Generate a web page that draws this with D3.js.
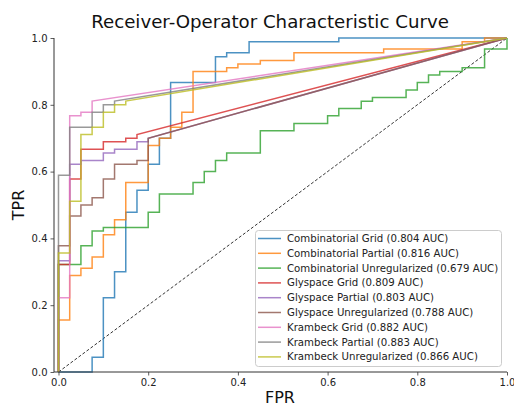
<!DOCTYPE html>
<html>
<head>
<meta charset="utf-8">
<script src="https://cdn.jsdelivr.net/npm/d3@7"></script>
<style>
  html, body { margin: 0; padding: 0; background: #fff; }
  svg { display: block; font-family: "DejaVu Sans", sans-serif; }
</style>
</head>
<body>
<svg id="chart" width="514" height="407"></svg>
<script>
// ROC curve vertices (FPR / TPR) for each model
const combGridFpr = [0, 0.075, 0.075, 0.1, 0.1, 0.125, 0.125, 0.15, 0.15, 0.175, 0.175, 0.2, 0.2, 0.225, 0.225, 0.25, 0.25, 0.35, 0.35, 0.375, 0.375, 0.425, 0.425, 0.625, 0.625, 1];
const combGridTpr = [0, 0, 0.044, 0.044, 0.222, 0.222, 0.3, 0.3, 0.478, 0.478, 0.544, 0.544, 0.622, 0.622, 0.7, 0.7, 0.867, 0.867, 0.944, 0.944, 0.956, 0.956, 0.989, 0.989, 1, 1];

const combPartialFpr = [0, 0, 0.025, 0.025, 0.05, 0.05, 0.075, 0.075, 0.1, 0.1, 0.125, 0.125, 0.15, 0.15, 0.2, 0.2, 0.225, 0.225, 0.25, 0.25, 0.275, 0.275, 0.3, 0.3, 0.375, 0.375, 0.4, 0.4, 0.45, 0.45, 0.525, 0.525, 0.725, 0.725, 0.9, 0.9, 0.95, 0.95, 1];
const combPartialTpr = [0, 0.156, 0.156, 0.289, 0.289, 0.311, 0.311, 0.344, 0.344, 0.411, 0.411, 0.456, 0.456, 0.567, 0.567, 0.678, 0.678, 0.7, 0.7, 0.733, 0.733, 0.778, 0.778, 0.9, 0.9, 0.911, 0.911, 0.922, 0.922, 0.933, 0.933, 0.956, 0.956, 0.967, 0.967, 0.989, 0.989, 1, 1];

const combUnregFpr = [0, 0, 0.05, 0.05, 0.075, 0.075, 0.1, 0.1, 0.2, 0.2, 0.225, 0.225, 0.3, 0.3, 0.325, 0.325, 0.35, 0.35, 0.375, 0.375, 0.45, 0.45, 0.525, 0.525, 0.6, 0.6, 0.625, 0.625, 0.675, 0.675, 0.7, 0.7, 0.775, 0.775, 0.8, 0.8, 0.825, 0.825, 0.85, 0.85, 0.9, 0.9, 0.95, 0.95, 1, 1];
const combUnregTpr = [0, 0.322, 0.322, 0.378, 0.378, 0.422, 0.422, 0.433, 0.433, 0.478, 0.478, 0.533, 0.533, 0.567, 0.567, 0.6, 0.6, 0.633, 0.633, 0.656, 0.656, 0.722, 0.722, 0.744, 0.744, 0.767, 0.767, 0.789, 0.789, 0.811, 0.811, 0.822, 0.822, 0.844, 0.844, 0.867, 0.867, 0.889, 0.889, 0.9, 0.9, 0.911, 0.911, 0.967, 0.967, 1];

const glyGridFpr = [0, 0, 0.025, 0.025, 0.05, 0.05, 0.1, 0.1, 0.15, 0.15, 0.175, 0.175, 1];
const glyGridTpr = [0, 0.322, 0.322, 0.578, 0.578, 0.667, 0.667, 0.689, 0.689, 0.7, 0.7, 0.711, 1];

const glyPartialFpr = [0, 0, 0.025, 0.025, 0.05, 0.05, 0.1, 0.1, 0.125, 0.125, 0.175, 0.175, 0.2, 0.2, 1];
const glyPartialTpr = [0, 0.333, 0.333, 0.622, 0.622, 0.633, 0.633, 0.656, 0.656, 0.667, 0.667, 0.689, 0.689, 0.7, 1];

const glyUnregFpr = [0, 0, 0.025, 0.025, 0.05, 0.05, 0.075, 0.075, 0.1, 0.1, 0.125, 0.125, 0.175, 0.175, 0.2, 0.2, 1];
const glyUnregTpr = [0, 0.378, 0.378, 0.467, 0.467, 0.5, 0.5, 0.522, 0.522, 0.578, 0.578, 0.622, 0.622, 0.633, 0.633, 0.7, 1];

const kramGridFpr = [0, 0, 0.025, 0.025, 0.05, 0.05, 0.075, 0.075, 1];
const kramGridTpr = [0, 0.222, 0.222, 0.767, 0.767, 0.778, 0.778, 0.811, 1];

const kramPartialFpr = [0, 0, 0.025, 0.025, 0.075, 0.075, 0.1, 0.1, 0.125, 0.125, 1];
const kramPartialTpr = [0, 0.589, 0.589, 0.733, 0.733, 0.778, 0.778, 0.8, 0.8, 0.811, 1];

const kramUnregFpr = [0, 0, 0.025, 0.025, 0.05, 0.05, 0.075, 0.075, 0.1, 0.1, 0.125, 0.125, 0.15, 0.15, 1];
const kramUnregTpr = [0, 0.356, 0.356, 0.511, 0.511, 0.711, 0.711, 0.733, 0.733, 0.778, 0.778, 0.8, 0.8, 0.811, 1];

const seriesNames = [
  "Combinatorial Grid", "Combinatorial Partial", "Combinatorial Unregularized",
  "Glyspace Grid", "Glyspace Partial", "Glyspace Unregularized",
  "Krambeck Grid", "Krambeck Partial", "Krambeck Unregularized"
];
const aucValues = [0.804, 0.816, 0.679, 0.809, 0.803, 0.788, 0.882, 0.883, 0.866];
const fprLists = [combGridFpr, combPartialFpr, combUnregFpr, glyGridFpr, glyPartialFpr, glyUnregFpr, kramGridFpr, kramPartialFpr, kramUnregFpr];
const tprLists = [combGridTpr, combPartialTpr, combUnregTpr, glyGridTpr, glyPartialTpr, glyUnregTpr, kramGridTpr, kramPartialTpr, kramUnregTpr];
const tickValues = [0, 0.2, 0.4, 0.6, 0.8, 1.0];

const series = seriesNames.map((name, i) => ({
  name,
  auc: aucValues[i],
  points: fprLists[i].map((f, j) => [f, tprLists[i][j]])
}));

const svg = d3.select("#chart");
const plotLeft = 54, plotRight = 507, plotTop = 38, plotBottom = 372;

const x = d3.scaleLinear().domain([-0.01, 1]).range([plotLeft, plotRight]);
const y = d3.scaleLinear().domain([0, 1]).range([plotBottom, plotTop]);
const color = d3.scaleOrdinal(d3.schemeCategory10).domain(seriesNames);

const line = d3.line().x(d => x(d[0])).y(d => y(d[1]));

// chance diagonal
svg.append("path")
  .attr("d", line([[0, 0], [1, 1]]))
  .attr("fill", "none")
  .attr("stroke", "#000")
  .attr("stroke-width", 0.8)
  .attr("stroke-dasharray", "3,2");

// ROC curves
svg.append("g").selectAll("path")
  .data(series)
  .join("path")
  .attr("d", d => line(d.points))
  .attr("fill", "none")
  .attr("stroke", d => color(d.name))
  .attr("stroke-opacity", 0.8)
  .attr("stroke-width", 1.5)
  .attr("stroke-linejoin", "miter");

// axes
const xAxis = d3.axisBottom(x).tickValues(tickValues).tickFormat(d3.format(".1f")).tickSize(3.5).tickPadding(3);
const yAxis = d3.axisLeft(y).tickValues(tickValues).tickFormat(d3.format(".1f")).tickSize(3.5).tickPadding(3);

const gx = svg.append("g").attr("transform", `translate(0,${plotBottom})`).call(xAxis);
const gy = svg.append("g").attr("transform", `translate(${plotLeft},0)`).call(yAxis);
gx.select(".domain").attr("d", `M${plotLeft},0H${plotRight}`);
gy.select(".domain").attr("d", `M0,${plotTop}V${plotBottom}`);
[gx, gy].forEach(g => {
  g.select(".domain").attr("stroke", "#333").attr("stroke-width", 1);
  g.selectAll(".tick line").attr("stroke", "#333").attr("stroke-width", 0.8);
  g.selectAll(".tick text").attr("fill", "#222").style("font-size", "10px").style("font-family", "DejaVu Sans");
});

// title and axis labels
svg.append("text")
  .attr("x", 270).attr("y", 28)
  .attr("text-anchor", "middle")
  .style("font-size", "18.2px")
  .attr("fill", "#111")
  .text("Receiver-Operator Characteristic Curve");

svg.append("text")
  .attr("x", 280).attr("y", 403)
  .attr("text-anchor", "middle")
  .style("font-size", "16px")
  .attr("fill", "#111")
  .text("FPR");

svg.append("text")
  .attr("transform", "translate(24,205) rotate(-90)")
  .attr("text-anchor", "middle")
  .style("font-size", "16px")
  .attr("fill", "#111")
  .text("TPR");

// legend
const lg = svg.append("g");
lg.append("rect")
  .attr("x", 255.5).attr("y", 230.5)
  .attr("width", 246).attr("height", 136)
  .attr("rx", 3)
  .attr("fill", "#fff").attr("fill-opacity", 0.8)
  .attr("stroke", "#ccc").attr("stroke-width", 1);

const rows = lg.selectAll("g.row")
  .data(series)
  .join("g")
  .attr("class", "row")
  .attr("transform", (d, i) => `translate(0,${238.5 + i * 14.8})`);

rows.append("line")
  .attr("x1", 258).attr("x2", 281)
  .attr("stroke", d => color(d.name))
  .attr("stroke-opacity", 0.8)
  .attr("stroke-width", 1.5);

rows.append("text")
  .attr("x", 287)
  .attr("dy", "0.35em")
  .style("font-size", "10.2px")
  .attr("fill", "#222")
  .text(d => `${d.name} (${d.auc.toFixed(3)} AUC)`);
</script>
</body>
</html>
